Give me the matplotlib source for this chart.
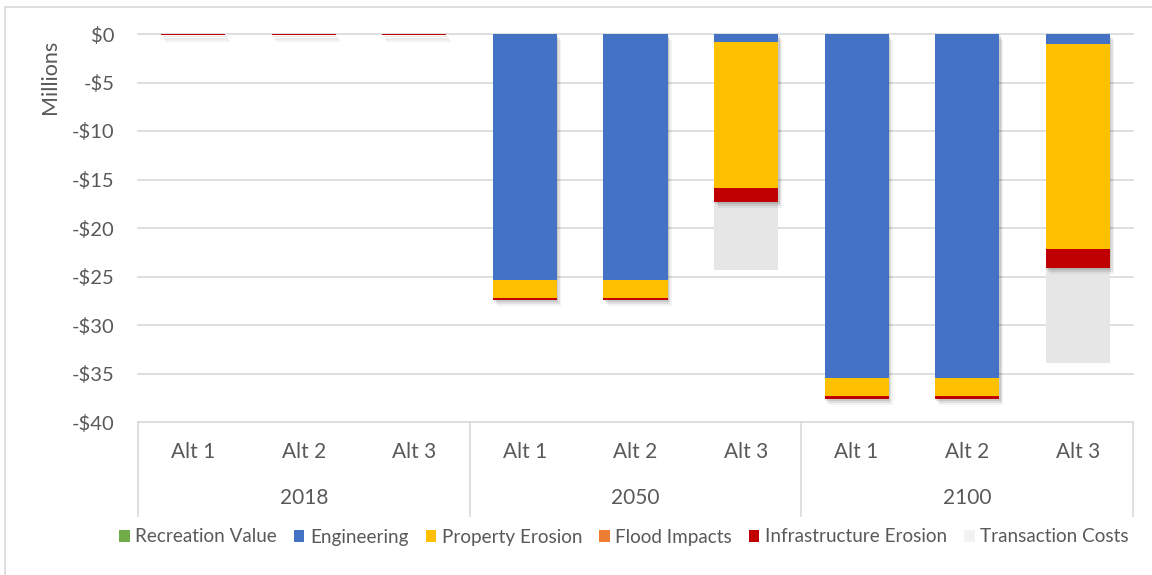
import matplotlib
matplotlib.use("Agg")
import matplotlib.pyplot as plt
import matplotlib.patheffects as pe
from matplotlib.lines import Line2D
from matplotlib.patches import Patch

plt.rcParams['font.family'] = ['Lato', 'DejaVu Sans']

# Category layout
years = ["2018", "2050", "2100"]
alts = ["Alt 1", "Alt 2", "Alt 3"]

# Values in millions of dollars (costs are negative), ordered
# 2018 Alt1..Alt3, 2050 Alt1..Alt3, 2100 Alt1..Alt3
recreation = [0, 0, 0, 0, 0, 0, 0, 0, 0]
engineering = [0, 0, 0, -25.4, -25.4, -0.85, -35.5, -35.5, -1.0]
property_erosion = [-0.02, -0.02, -0.02, -1.8, -1.8, -15.05, -1.8, -1.8, -21.2]
flood = [0, 0, 0, -0.05, -0.05, 0, -0.05, -0.05, 0]
infrastructure = [-0.12, -0.12, -0.12, -0.15, -0.15, -1.38, -0.25, -0.25, -1.9]
transaction = [0, 0, 0, 0, 0, -7.0, 0, 0, -9.8]

series = [
    ("Recreation Value", recreation, "#70AD47"),
    ("Engineering", engineering, "#4472C4"),
    ("Property Erosion", property_erosion, "#FFC000"),
    ("Flood Impacts", flood, "#ED7D31"),
    ("Infrastructure Erosion", infrastructure, "#C00000"),
    ("Transaction Costs", transaction, "#E7E6E6"),
]

yticks = [0, -5, -10, -15, -20, -25, -30, -35, -40]
ytick_labels = ["$0" if v == 0 else f"-${abs(v)}" for v in yticks]

text_color = "#595959"
grid_color = "#D9D9D9"

fig = plt.figure(figsize=(11.52, 5.75), dpi=100)
ax = fig.add_axes([138 / 1152, 1 - 422 / 575, (1133 - 138) / 1152, (422 - 34) / 575])

x = list(range(len(engineering)))
width = 0.58

# soft drop shadow built from a few offset translucent copies
shadow = [
    pe.SimplePatchShadow(offset=(1, -1.5), shadow_rgbFace="black", alpha=0.10),
    pe.SimplePatchShadow(offset=(2, -3), shadow_rgbFace="black", alpha=0.08),
    pe.SimplePatchShadow(offset=(3, -4.5), shadow_rgbFace="black", alpha=0.05),
    pe.Normal(),
]

bottom = [0.0] * len(x)
for name, vals, color in series:
    flat = name == "Transaction Costs"
    bars = ax.bar(x, vals, width, bottom=bottom, color=color, linewidth=0,
                  zorder=2 if flat else 3)
    if not flat:
        for b in bars:
            if b.get_height() != 0:
                b.set_path_effects(shadow)
    bottom = [b + v for b, v in zip(bottom, vals)]

ax.set_xlim(-0.5, len(x) - 0.5)
ax.set_ylim(-40, 0)
for v in yticks:
    ax.axhline(v, color=grid_color, lw=1.2, zorder=1, clip_on=False)

ax.set_yticks(yticks)
ax.set_yticklabels(ytick_labels, fontsize=14.5, color=text_color)
ax.tick_params(axis="y", length=0, pad=17)
ax.set_xticks([])
for s in ax.spines.values():
    s.set_visible(False)

# two-level category axis
trans = ax.get_xaxis_transform()
for i in x:
    ax.text(i, -0.077, alts[i % 3], transform=trans, ha="center", va="center",
            fontsize=15, color=text_color)
for g, yr in enumerate(years):
    ax.text(g * 3 + 1, -0.196, yr, transform=trans, ha="center", va="center",
            fontsize=15, color=text_color)
for sx in [-0.5, 2.5, 5.5, 8.5]:
    ax.add_line(Line2D([sx, sx], [0, -0.242], transform=trans, color=grid_color,
                       lw=1.2, clip_on=False))

fig.text(50 / 1152, 1 - 77 / 575, "Millions", rotation=90, ha="center", va="center",
         fontsize=15.5, color=text_color)

handles = [Patch(facecolor=c, edgecolor="none") for _, _, c in series]
handles[-1] = Patch(facecolor="#F2F2F2", edgecolor="none")
fig.legend(handles, [n for n, _, _ in series], loc="center",
           bbox_to_anchor=(624 / 1152, 1 - 537 / 575), ncol=6, frameon=False,
           fontsize=13.6, labelcolor=text_color, handlelength=0.55, handleheight=0.55,
           handletextpad=0.3, columnspacing=0.9)

# outer chart frame
fig.add_artist(Line2D([5 / 1152, 5 / 1152], [0, 1 - 7 / 575], transform=fig.transFigure,
                      color=grid_color, lw=1.2))
fig.add_artist(Line2D([5 / 1152, 1], [1 - 7 / 575, 1 - 7 / 575], transform=fig.transFigure,
                      color=grid_color, lw=1.2))

fig.savefig("out.png", dpi=100, facecolor="white")
